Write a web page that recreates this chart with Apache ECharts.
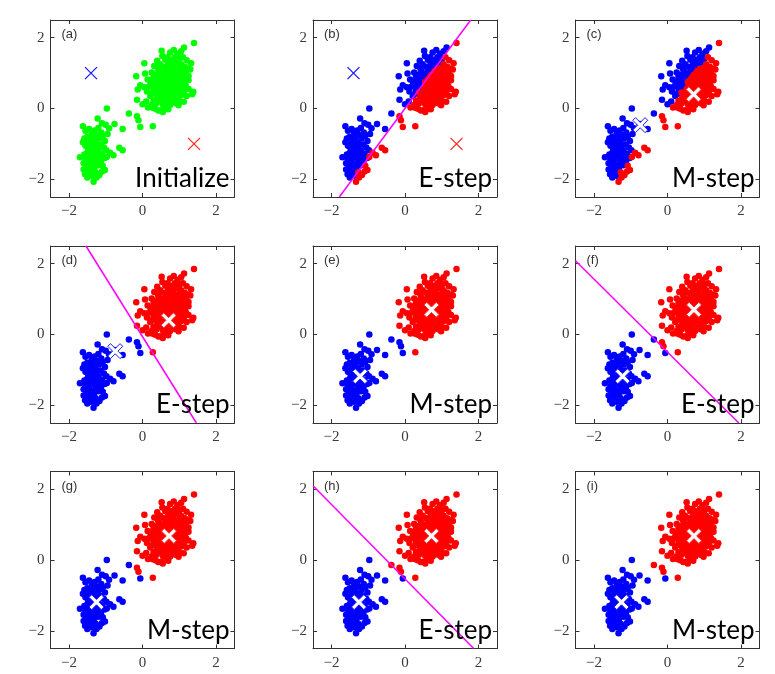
<!DOCTYPE html>
<html>
<head>
<meta charset="utf-8">
<script src="https://cdn.jsdelivr.net/npm/echarts@6/dist/echarts.min.js"></script>
<style>
html,body{margin:0;padding:0;background:#fff;}
#chart{width:775px;height:674px;}
</style>
</head>
<body>
<div id="chart"></div>
<script>
// ---- data (standardised Old Faithful style points) ----
const tickValues = [-2, 0, 2];

const lowerPoints = [
  [-1.62,-0.50],[-1.55,-0.63],[-1.45,-0.58],[-1.38,-0.70],[-1.30,-0.62],[-1.20,-0.55],[-1.10,-0.42],
  [-1.00,-0.46],[-0.91,-0.56],[-0.76,-0.44],[-1.22,-0.28],[-0.97,0.00],[-1.12,-0.68],
  [-1.58,-0.85],[-1.50,-0.80],[-1.42,-0.90],[-1.35,-0.82],[-1.28,-0.95],[-1.18,-0.85],[-1.08,-0.78],
  [-1.02,-0.92],[-0.95,-0.72],[-1.46,-0.98],[-1.62,-0.95],[-1.25,-0.75],
  [-1.55,-1.05],[-1.48,-1.12],[-1.40,-1.05],[-1.33,-1.15],[-1.27,-1.08],[-1.20,-1.18],[-1.14,-1.02],
  [-1.05,-1.10],[-0.98,-1.18],[-0.63,-1.11],[-0.54,-1.18],[-1.36,-1.00],[-1.44,-1.20],
  [-1.70,-1.38],[-1.58,-1.30],[-1.50,-1.25],[-1.42,-1.35],[-1.35,-1.28],[-1.30,-1.42],[-1.24,-1.30],
  [-1.18,-1.38],[-1.10,-1.28],[-1.03,-1.40],[-0.97,-1.37],[-0.79,-1.32],[-0.88,-1.25],[-1.48,-1.42],
  [-1.60,-1.55],[-1.52,-1.62],[-1.45,-1.50],[-1.38,-1.58],[-1.32,-1.68],[-1.26,-1.52],[-1.20,-1.60],
  [-1.13,-1.50],[-1.08,-1.62],[-1.40,-1.68],[-1.55,-1.45],
  [-1.60,-1.72],[-1.56,-1.86],[-1.50,-1.95],[-1.44,-1.80],[-1.38,-1.90],[-1.33,-2.07],[-1.27,-1.80],
  [-1.25,-1.95],[-1.17,-1.88],[-1.10,-1.78],[-1.02,-1.74],[-1.48,-1.75],[-1.35,-1.78]
];

const bridgePoints = [
  [-0.37,-0.14],[-0.15,-0.22],[-0.11,-0.33],[-0.06,-0.52],[0.28,-0.50],[-0.54,-0.58]
];

const upperPoints = [
  [1.40,1.85],[1.13,1.72],[0.52,1.63],[0.85,1.65],[1.05,1.62],[0.75,1.58],[0.95,1.55],
  [0.54,1.48],[0.68,1.45],[0.88,1.45],[1.10,1.45],[0.78,1.38],[1.00,1.40],[1.20,1.36],[0.62,1.38],[0.40,1.35],[1.32,1.28],
  [0.32,1.20],[0.05,1.28],[0.48,1.25],[0.58,1.18],[0.70,1.28],[0.82,1.22],[0.92,1.30],[1.05,1.25],
  [1.15,1.18],[1.25,1.12],[0.65,1.12],[0.88,1.12],[1.00,1.15],[0.75,1.15],[0.42,1.12],[1.30,1.10],
  [-0.17,0.91],[0.07,0.99],[0.25,1.02],[0.35,0.95],[0.45,1.05],[0.55,0.98],[0.62,1.05],[0.72,0.95],
  [0.80,1.05],[0.90,0.98],[0.98,1.05],[1.08,0.95],[1.18,1.02],[1.25,0.92],[0.50,0.92],[0.68,0.90],
  [0.85,0.92],[1.02,0.90],[0.30,0.90],[0.95,1.08],[1.12,1.08],
  [0.14,0.82],[0.22,0.75],[0.32,0.85],[0.40,0.78],[0.48,0.85],[0.55,0.75],[0.62,0.82],[0.70,0.75],
  [0.78,0.85],[0.85,0.72],[0.92,0.82],[1.00,0.75],[1.08,0.85],[1.15,0.72],[1.25,0.80],[0.45,0.70],
  [0.60,0.70],[0.75,0.68],[0.95,0.70],[1.20,0.88],[0.38,0.88],[0.68,0.86],[0.88,0.80],[1.05,0.78],
  [-0.06,0.66],[0.05,0.60],[0.18,0.62],[0.28,0.68],[0.35,0.58],[0.42,0.62],[0.52,0.55],[0.58,0.65],
  [0.66,0.58],[0.73,0.63],[0.80,0.55],[0.88,0.62],[0.95,0.55],[1.02,0.65],[1.10,0.58],[1.18,0.62],
  [1.25,0.55],[0.30,0.52],[0.48,0.68],[0.70,0.50],[0.85,0.68],[1.05,0.52],[0.62,0.52],[0.92,0.66],
  [-0.13,0.54],[0.12,0.48],[0.21,0.35],[0.28,0.42],[0.38,0.45],[0.45,0.35],[0.52,0.42],[0.60,0.32],
  [0.68,0.45],[0.75,0.38],[0.82,0.45],[0.90,0.35],[0.98,0.45],[1.05,0.38],[1.12,0.45],[1.35,0.40],
  [1.38,0.47],[0.40,0.30],[0.72,0.30],[0.95,0.28],[0.55,0.48],[1.20,0.35],
  [-0.15,0.25],[0.00,0.12],[0.10,0.20],[0.30,0.22],[0.38,0.15],[0.48,0.22],[0.55,0.12],[0.65,0.20],
  [0.75,0.10],[0.82,0.22],[0.90,0.15],[0.98,0.09],[1.12,0.19],[0.25,0.10],[0.60,0.25],[1.00,0.22],
  [0.15,0.03],[0.35,-0.01],[0.43,-0.06],[0.50,-0.05],[0.62,0.04],[0.28,0.02],[0.70,-0.02],[0.55,-0.10]
];

// cluster centres [blue, red] for each stage
const centersInit = [[-1.40, 1.00], [1.40, -1.00]];
const centersC    = [[-0.74, -0.47], [0.71, 0.40]];
const centersE    = [[-1.22, -1.18], [0.72, 0.70]];
const centersG    = [[-1.25, -1.19], [0.72, 0.68]];

const panelTags  = ['(a)','(b)','(c)','(d)','(e)','(f)','(g)','(h)','(i)'];
const panelSteps = ['Initialize','E-step','M-step','E-step','M-step','E-step','M-step','E-step','M-step'];
// which centres colour the points, which centres are drawn, and whether the boundary is drawn
const panelAssign  = [null, centersInit, centersInit, centersC, centersC, centersE, centersE, centersG, centersG];
const panelCenters = [centersInit, centersInit, centersC, centersC, centersE, centersE, centersG, centersG, centersG];
const panelLine    = [false, true, false, true, false, true, false, true, false];
const panelThin    = [true, true, false, false, false, false, false, false, false];

// ---- layout ----
const colLeft = [50.5, 313, 575.5];
const rowTop  = [20, 246, 471.5];
const gW = 184, gH = 177;
const AX = {min: -2.5, max: 2.5};

const points = lowerPoints.concat(bridgePoints, upperPoints);

function nearest(p, c) {
  const db = (p[0]-c[0][0])**2 + (p[1]-c[0][1])**2;
  const dr = (p[0]-c[1][0])**2 + (p[1]-c[1][1])**2;
  return db <= dr ? 0 : 1;
}
function boundary(c) {
  const mx = (c[0][0]+c[1][0])/2, my = (c[0][1]+c[1][1])/2;
  const nx = c[1][0]-c[0][0], ny = c[1][1]-c[0][1];
  const dx = -ny, dy = nx;
  let t0 = -1e9, t1 = 1e9;
  [[mx,dx],[my,dy]].forEach(([m,d]) => {
    if (Math.abs(d) < 1e-12) return;
    let a = (AX.min - m)/d, b = (AX.max - m)/d;
    if (a > b) [a,b] = [b,a];
    t0 = Math.max(t0, a); t1 = Math.min(t1, b);
  });
  return [[mx+t0*dx, my+t0*dy],[mx+t1*dx, my+t1*dy]];
}
const fmt = v => v < 0 ? '\u2212' + Math.abs(v) : String(v);

const thickX = 'path://M0,1.8L1.8,0L5,3.2L8.2,0L10,1.8L6.8,5L10,8.2L8.2,10L5,6.8L1.8,10L0,8.2L3.2,5Z';
const thinX = 'path://M0,0L10,10M10,0L0,10';

const grids = [], xAxes = [], yAxes = [], series = [], graphics = [];
const axisColor = '#333';
const serif = '"Liberation Serif", "DejaVu Serif", "Times New Roman", serif';

for (let i = 0; i < 9; i++) {
  const r = Math.floor(i/3), c = i%3;
  const left = colLeft[c], top = rowTop[r];
  grids.push({left: left, top: top, width: gW, height: gH, show: false, containLabel: false});
  const base = {
    gridIndex: i, type: 'value', min: AX.min, max: AX.max,
    splitLine: {show: false},
    axisLine: {show: true, onZero: false, lineStyle: {color: axisColor, width: 1}},
    axisTick: {show: true, inside: true, length: 4, customValues: tickValues, lineStyle: {color: axisColor}},
  };
  const lab = {show: true, customValues: tickValues, formatter: fmt, color: '#3a3a3a',
               fontFamily: serif, fontSize: 15, margin: 7};
  xAxes.push(Object.assign({}, base, {position: 'bottom', axisLabel: lab}));
  xAxes.push(Object.assign({}, base, {position: 'top', axisLabel: {show: false}}));
  yAxes.push(Object.assign({}, base, {position: 'left', axisLabel: Object.assign({}, lab, {margin: 6})}));
  yAxes.push(Object.assign({}, base, {position: 'right', axisLabel: {show: false}}));

  const xi = 2*i, yi = 2*i;
  const asg = panelAssign[i];
  if (!asg) {
    series.push({type: 'scatter', xAxisIndex: xi, yAxisIndex: yi, data: points,
      symbolSize: 6.5, itemStyle: {color: '#00ff00', opacity: 1}, silent: true, animation: false});
  } else {
    const blue = points.filter(p => nearest(p, asg) === 0);
    const red = points.filter(p => nearest(p, asg) === 1);
    series.push({type: 'scatter', xAxisIndex: xi, yAxisIndex: yi, data: blue,
      symbolSize: 6.5, itemStyle: {color: '#0000ff', opacity: 1}, silent: true, animation: false});
    series.push({type: 'scatter', xAxisIndex: xi, yAxisIndex: yi, data: red,
      symbolSize: 6.5, itemStyle: {color: '#ff0000', opacity: 1}, silent: true, animation: false});
  }
  if (panelLine[i]) {
    series.push({type: 'line', xAxisIndex: xi, yAxisIndex: yi, data: boundary(panelCenters[i]),
      symbol: 'none', lineStyle: {color: '#ff00ff', width: 1.5}, silent: true, animation: false, z: 3});
  }
  const cen = panelCenters[i];
  const colors = ['#1a1aff', '#ff2a2a'];
  cen.forEach((p, k) => {
    if (panelThin[i]) {
      series.push({type: 'scatter', xAxisIndex: xi, yAxisIndex: yi, data: [p],
        symbol: thinX, symbolSize: 12, z: 4,
        itemStyle: {color: 'rgba(0,0,0,0)', borderColor: colors[k], borderWidth: 1.3, opacity: 1},
        silent: true, animation: false});
    } else {
      series.push({type: 'scatter', xAxisIndex: xi, yAxisIndex: yi, data: [p],
        symbol: thickX, symbolSize: 15, z: 4,
        itemStyle: {color: '#ffffff', borderColor: colors[k], borderWidth: 1, opacity: 1},
        silent: true, animation: false});
    }
  });

  graphics.push({type: 'text', left: left + 11, top: top + 8, z: 10, silent: true,
    style: {text: panelTags[i], fill: '#333', font: '13px "Liberation Sans"'}});
  graphics.push({type: 'text', x: left + gW - 5, y: top + gH - 5, z: 10, silent: true,
    style: {text: panelSteps[i], fill: '#000', font: '26px Lato', align: 'right', verticalAlign: 'bottom'}});
}

const chart = echarts.init(document.getElementById('chart'), null, {renderer: 'canvas'});
chart.setOption({
  backgroundColor: '#ffffff',
  animation: false,
  grid: grids, xAxis: xAxes, yAxis: yAxes, series: series, graphic: graphics
});
</script>
</body>
</html>
